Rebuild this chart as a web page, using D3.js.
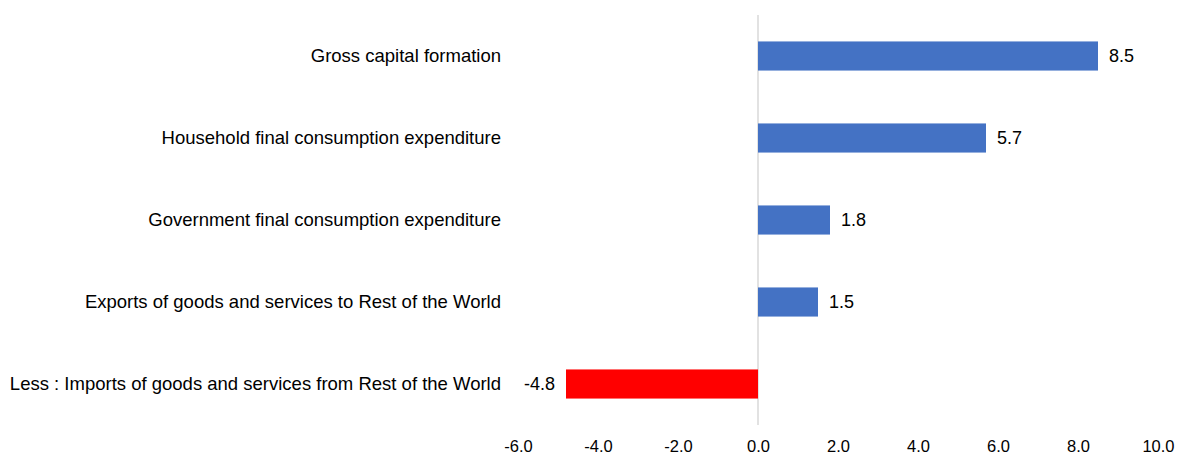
<!DOCTYPE html>
<html>
<head>
<meta charset="utf-8">
<script src="https://cdn.jsdelivr.net/npm/d3@7"></script>
<style>
  body { margin:0; background:#fff; }
  text { font-family: "Liberation Sans", Arial, sans-serif; }
</style>
</head>
<body>
<div id="chart"></div>
<script>
var categories = [
  "Gross capital formation",
  "Household final consumption expenditure",
  "Government final consumption expenditure",
  "Exports of goods and services to Rest of the World",
  "Less : Imports of goods and services from Rest of the World"
];
var values     = [8.5, 5.7, 1.8, 1.5, -4.8];
var bar_colors = ["#4472C4", "#4472C4", "#4472C4", "#4472C4", "#FF0000"];
var x_ticks    = [-6, -4, -2, 0, 2, 4, 6, 8, 10];

var dim = { width:1180, height:455 };

var svg = d3.select("#chart").append("svg")
  .attr("width", dim.width)
  .attr("height", dim.height);

var x = d3.scaleLinear().domain([-6, 10]).range([518, 1158]);
var y = d3.scaleBand().domain(categories).range([15, 425]).paddingInner(0.645).paddingOuter(0.3225);

// vertical zero line
svg.append("line")
  .attr("x1", x(0)).attr("x2", x(0))
  .attr("y1", 15).attr("y2", 425)
  .style("stroke", "#d9d9d9")
  .style("stroke-width", 1.5);

// bars
svg.selectAll(".bar").data(values).enter().append("rect")
  .attr("class", "bar")
  .attr("x", function (d) { return x(Math.min(0, d)); })
  .attr("y", function (d, i) { return y(categories[i]); })
  .attr("width", function (d) { return Math.abs(x(d) - x(0)); })
  .attr("height", y.bandwidth())
  .style("fill", function (d, i) { return bar_colors[i]; });

// value labels
svg.selectAll(".val").data(values).enter().append("text")
  .attr("class", "val")
  .attr("x", function (d) { return d >= 0 ? x(d) + 11 : x(d) - 11; })
  .attr("y", function (d, i) { return y(categories[i]) + y.bandwidth()/2; })
  .attr("dy", "0.35em")
  .attr("text-anchor", function (d) { return d >= 0 ? "start" : "end"; })
  .style("font-size", "18px")
  .style("fill", "#000")
  .text(function (d) { return d.toFixed(1); });

// category labels
svg.selectAll(".cat").data(categories).enter().append("text")
  .attr("class", "cat")
  .attr("x", 501)
  .attr("y", function (d) { return y(d) + y.bandwidth()/2; })
  .attr("dy", "0.35em")
  .attr("text-anchor", "end")
  .style("font-size", "18.5px")
  .style("fill", "#000")
  .text(function (d) { return d; });

// x axis
var x_axis = d3.axisBottom(x).tickValues(x_ticks).tickSize(0).tickPadding(0)
  .tickFormat(function (d) { return d.toFixed(1); });
var g_axis = svg.append("g")
  .attr("transform", "translate(0,440)")
  .call(x_axis);
g_axis.select(".domain").remove();
g_axis.selectAll("text")
  .style("font-size", "16.5px")
  .style("font-family", "'Liberation Sans', Arial, sans-serif")
  .style("fill", "#000");
</script>
</body>
</html>
